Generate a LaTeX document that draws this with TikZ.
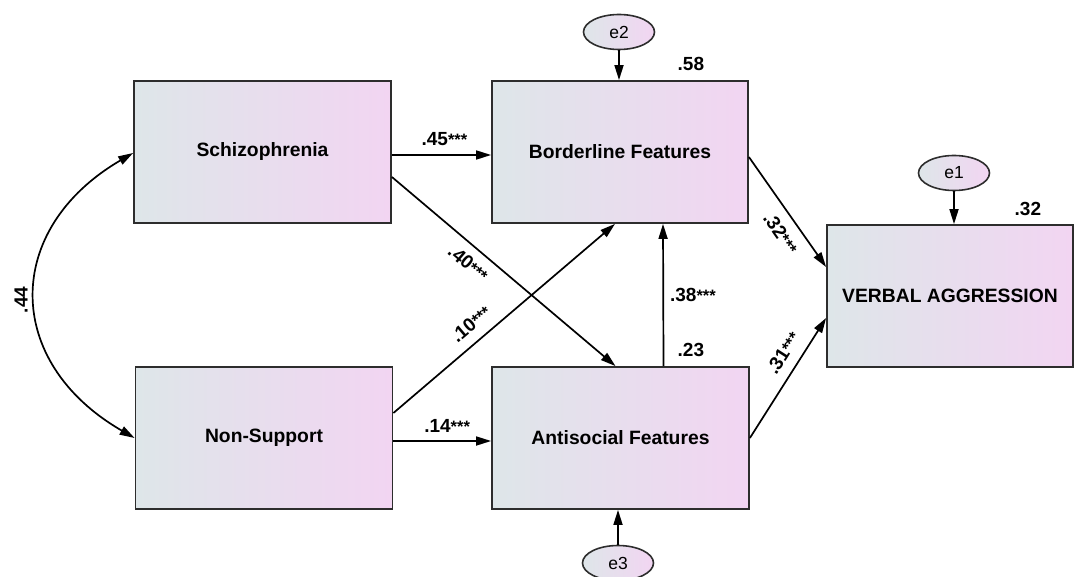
\documentclass[tikz,border=0pt]{standalone}
\usepackage{fontspec}
\setmainfont{Liberation Sans}
\usetikzlibrary{arrows.meta,shapes.geometric}
\definecolor{fillL}{RGB}{222,230,233}
\definecolor{fillR}{RGB}{242,213,242}
\definecolor{edgeC}{RGB}{45,45,45}
\newcommand\stars{{\fontsize{16.5}{16}\selectfont ***}}
\begin{document}
\begin{tikzpicture}[x=1pt,y=-1pt,
  varbox/.style={rectangle, draw=edgeC, line width=1.8pt, left color=fillL, right color=fillR,
    minimum width=#1, minimum height=142pt, inner sep=0pt,
    font=\fontsize{19.3}{22}\selectfont\bfseries},
  varbox/.default=257pt,
  errnode/.style={ellipse, draw=edgeC, line width=1.6pt, left color=fillL, right color=fillR,
    minimum width=71pt, minimum height=35pt, inner sep=0pt,
    font=\fontsize{17.5}{20}\selectfont},
  pathline/.style={draw, line width=1.7pt, -{Triangle[length=15pt,width=9pt]}},
  coeflbl/.style={font=\fontsize{19}{20}\selectfont\bfseries, inner sep=1pt},
]
\useasboundingbox (0,0) rectangle (1075,577);

\node[varbox] (schiz) at (262.5,152) {Schizophrenia};
\node[varbox] (nons) at (264,438) {Non-Support};
\node[varbox=256pt] (bord) at (620,152) {Borderline Features};
\node[varbox=257pt] (anti) at (620.5,438) {Antisocial Features};
\node[varbox=246pt] (verb) at (950,296) {VERBAL AGGRESSION};

\node[errnode] (e2) at (619,32) {e2};
\node[errnode] (e1) at (954,173) {e1};
\node[errnode] (e3) at (618,563) {e3};

% error arrows
\draw[pathline] (e2.south) -- (e2.south |- bord.north);
\draw[pathline] (e1.south) -- (e1.south |- verb.north);
\draw[pathline] (e3.north) -- (e3.north |- anti.south);

% paths
\draw[pathline] ([yshift=-3pt]schiz.east) -- node[coeflbl, above=7pt, pos=0.53]{.45\stars} ([yshift=-3pt]bord.west);
\draw[pathline] ([yshift=-3pt]nons.east) -- node[coeflbl, above=7pt, pos=0.55]{.14\stars} ([yshift=-3pt]anti.west);
\draw[pathline] ([yshift=-25pt]schiz.east) -- node[coeflbl, sloped, below=8pt, pos=0.39]{.40\stars} ([xshift=-5pt]anti.north);
\draw[pathline] ([yshift=25pt]nons.east) -- node[coeflbl, sloped, above=9pt, pos=0.40]{.10\stars} ([xshift=-5pt]bord.south);
\draw[pathline] ([xshift=43pt]anti.north) -- node[coeflbl, right=5pt, pos=0.5]{.38\stars} ([xshift=43pt]bord.south);
\draw[pathline] ([yshift=-5pt]bord.east) -- node[coeflbl, sloped, below=9pt, pos=0.6]{.32\stars} ([yshift=29pt]verb.west);
\draw[pathline] (anti.east) -- node[coeflbl, sloped, above=9pt, pos=0.63]{.31\stars} ([yshift=-22pt]verb.west);

% covariance
\draw[line width=1.7pt, {Triangle[length=15pt,width=9pt]}-{Triangle[length=15pt,width=9pt]}]
  ([yshift=-1pt]schiz.west) .. controls (3,229) and (3,362) .. (nons.west);
\node[coeflbl, rotate=90] (cov) at (21,300) {.44};

% R squared
\node[coeflbl] (r2b) at ([xshift=-58pt,yshift=16pt]bord.north east) {.58};
\node[coeflbl] (r2a) at ([xshift=-59pt,yshift=16pt]anti.north east) {.23};
\node[coeflbl] (r2v) at ([xshift=-46pt,yshift=15pt]verb.north east) {.32};
\end{tikzpicture}
\end{document}
